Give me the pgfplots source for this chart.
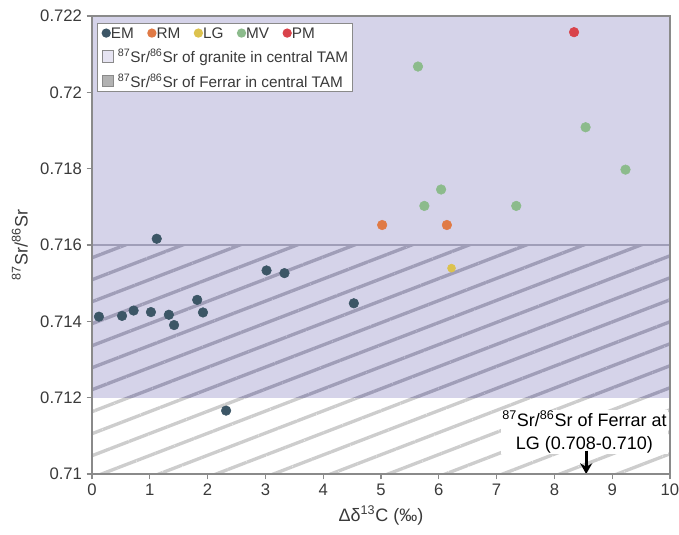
\documentclass[border=0pt]{standalone}
\usepackage{pgfplots}
\pgfplotsset{compat=1.18}
\usepackage{fontspec}
\setmainfont{Liberation Sans}
\usetikzlibrary{patterns.meta,arrows.meta}

\definecolor{emcol}{HTML}{3C5666}
\definecolor{rmcol}{HTML}{E07A45}
\definecolor{lgcol}{HTML}{DCC24E}
\definecolor{mvcol}{HTML}{8CBB8C}
\definecolor{pmcol}{HTML}{D9434B}
\definecolor{granite}{HTML}{D5D3E9}
\definecolor{hatchdark}{HTML}{A09EB8}
\definecolor{hatchlight}{HTML}{CDCDCD}
\definecolor{axgray}{HTML}{8A8A8A}
\definecolor{txtgray}{HTML}{3A3A3A}

\newcommand{\dotm}[1]{\tikz[baseline=-0.62ex]\fill[#1] (0pt,0pt) circle (3.5pt);}
\newcommand{\boxm}[1]{\tikz[baseline=-0.1ex]\filldraw[#1, draw=axgray, line width=0.5pt] (0pt,0pt) rectangle (8.5pt,8.5pt);}

\begin{document}
\begin{tikzpicture}
\begin{axis}[
  scale only axis,
  width=433.5pt, height=343.5pt,
  % ratios are handled in units of 1e-3 internally to keep the scale small
  y coord trafo/.code={\pgfmathparse{(#1-0.71)*1000}},
  y coord inv trafo/.code={\pgfmathparse{#1/1000+0.71}},
  xmin=0, xmax=10, ymin=0.71, ymax=0.722,
  axis line style={axgray, line width=0.9pt},
  xtick={0,1,...,10},
  ytick={0.71,0.712,0.714,0.716,0.718,0.72,0.722},
  yticklabels={0.71,0.712,0.714,0.716,0.718,0.72,0.722},
  xticklabels={0,1,2,3,4,5,6,7,8,9,10},
  tick align=outside,
  major tick length=4pt,
  tick style={axgray, line width=0.8pt},
  xtick pos=bottom, ytick pos=left,
  ticklabel style={font=\fontsize{12.5}{14}\selectfont, text=txtgray},
  xlabel={Δδ\textsuperscript{13}C (‰)},
  ylabel={\textsuperscript{87}Sr/\textsuperscript{86}Sr},
  label style={font=\fontsize{13.5}{15}\selectfont, text=txtgray},
  xlabel style={at={(axis description cs:0.5,-0.09)}, anchor=center},
  ylabel style={at={(axis description cs:-0.125,0.5)}, anchor=center},
  axis on top,
  clip=true,
]
% granite range (0.712 upward)
\fill[granite] (axis cs:0,0.712) rectangle (axis cs:10,0.722);
% Ferrar range in central TAM (0.710-0.716), hatched
\fill[pattern={Lines[angle=21,distance=15.4pt,line width=2.5pt]}, pattern color=hatchlight]
  (axis cs:0,0.71) rectangle (axis cs:10,0.712);
\fill[pattern={Lines[angle=21,distance=15.4pt,line width=2.5pt]}, pattern color=hatchdark]
  (axis cs:0,0.712) rectangle (axis cs:10,0.716);
\draw[hatchdark, line width=1.1pt] (axis cs:0,0.716) -- (axis cs:10,0.716);

% EM
\addplot[only marks, color=emcol, mark=*, mark size=3.6pt, mark options={draw=none, fill=emcol}] coordinates {
  (0.12,0.71412) (0.52,0.71414) (0.72,0.71428) (1.02,0.71424) (1.12,0.71616)
  (1.33,0.71417) (1.42,0.71390) (1.82,0.71456) (1.92,0.71423) (2.32,0.71166)
  (3.02,0.71533) (3.33,0.71526) (4.53,0.71447)
};
% RM
\addplot[only marks, color=rmcol, mark=*, mark size=3.6pt, mark options={draw=none, fill=rmcol}] coordinates {
  (5.02,0.71652) (6.14,0.71652)
};
% LG
\addplot[only marks, color=lgcol, mark=*, mark size=3.0pt, mark options={draw=none, fill=lgcol}] coordinates {
  (6.22,0.71539)
};
% MV
\addplot[only marks, color=mvcol, mark=*, mark size=3.6pt, mark options={draw=none, fill=mvcol}] coordinates {
  (5.64,0.72067) (8.54,0.71908) (9.23,0.71797) (6.04,0.71745) (5.75,0.71702) (7.34,0.71702)
};
% PM
\addplot[only marks, color=pmcol, mark=*, mark size=3.6pt, mark options={draw=none, fill=pmcol}] coordinates {
  (8.34,0.72157)
};

% Ferrar at LG annotation
\node[fill=white, inner sep=1pt, align=center, text=black,
      font=\fontsize{13.5}{17}\selectfont] at (axis cs:8.52,0.71110)
  {\textsuperscript{87}Sr/\textsuperscript{86}Sr of Ferrar at\\LG (0.708-0.710)};
\draw[line width=2.2pt, -{Stealth[length=8pt,width=9pt]}] (axis cs:8.55,0.71062) -- (axis cs:8.55,0.7100);

% legend
\node[anchor=north west, draw=axgray, line width=0.8pt, fill=white, inner sep=3pt,
      font=\fontsize{11.5}{14}\selectfont, text=txtgray, align=left]
  at (rel axis cs:0.0087,0.985)
  {\dotm{emcol}EM\hspace{10pt}\dotm{rmcol}RM\hspace{10pt}\dotm{lgcol}LG\hspace{10pt}\dotm{mvcol}MV\hspace{10pt}\dotm{pmcol}PM\\[4.5pt]
   \boxm{granite!60}\ \textsuperscript{87}Sr/\textsuperscript{86}Sr of granite in central TAM\\[4.5pt]
   \boxm{black!30}\ \textsuperscript{87}Sr/\textsuperscript{86}Sr of Ferrar in central TAM};
\end{axis}
\pgfresetboundingbox
\path (-69pt,-45.75pt) rectangle (440.25pt,355.5pt);
\end{tikzpicture}
\end{document}
